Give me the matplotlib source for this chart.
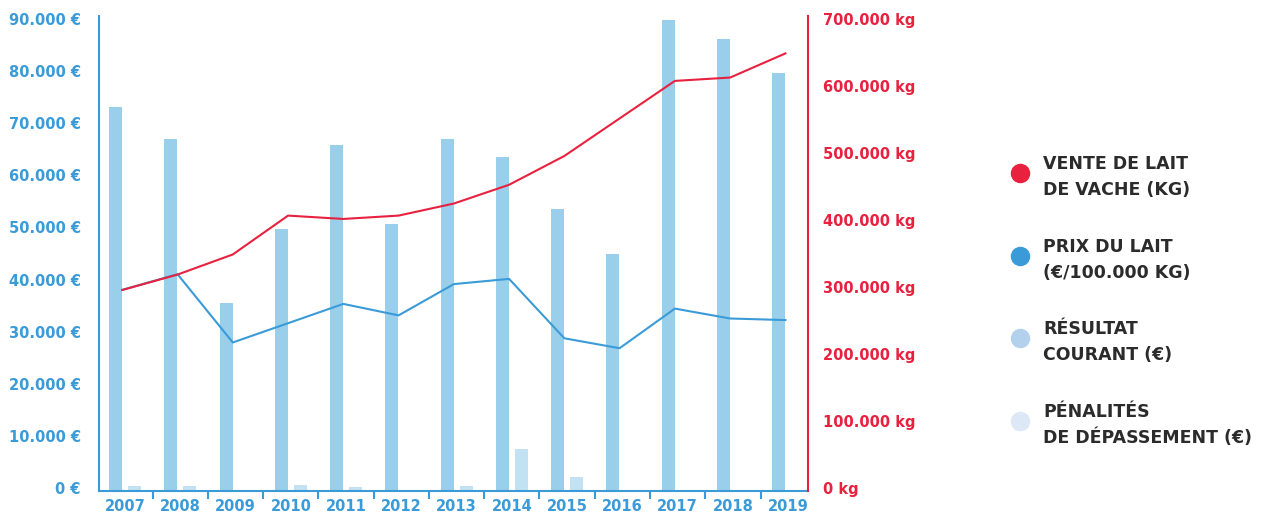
import matplotlib.pyplot as plt
import matplotlib.transforms as mtransforms
from matplotlib.lines import Line2D
import numpy as np

years = ['2007', '2008', '2009', '2010', '2011', '2012', '2013',
         '2014', '2015', '2016', '2017', '2018', '2019']

# résultat courant (EUR)
resultat = [73700, 67500, 36100, 50300, 66400, 51200, 67500,
            64100, 54100, 45500, 90400, 86700, 80200]
# pénalités de dépassement (EUR)
penalites = [960, 960, 0, 1150, 770, 0, 960,
             8060, 2690, 0, 0, 0, 0]
# prix du lait (EUR / 100.000 kg)
prix = [38600, 41600, 28500, 32200, 35900, 33700, 39700,
        40700, 29300, 27400, 35000, 33100, 32800]
# vente de lait de vache (kg)
vente = [300000, 323000, 353000, 411000, 406000, 411000, 429000,
         457000, 500000, 556000, 612000, 617000, 653000]

BLUE = '#3a9bd8'
RED = '#e8213f'
BAR = '#9acfeb'
BAR_LIGHT = '#c2e2f3'
DARK = '#2b2b2b'

plt.rcParams['font.family'] = 'DejaVu Sans'
plt.rcParams['font.weight'] = 'bold'

fig = plt.figure(figsize=(12.61, 5.14), dpi=100)
ax = fig.add_axes([0.0783, 0.0447, 0.5625, 0.9248])
ax2 = ax.twinx()

x = np.arange(len(years))
width = 0.235

ax.bar(x - 0.172, resultat, width=width, color=BAR, zorder=2)
ax.bar(x + 0.172, penalites, width=width, color=BAR_LIGHT, zorder=2)
ax.plot(x - 0.05, prix, color=BLUE, lw=1.5, zorder=3)
ax2.plot(x - 0.05, vente, color=RED, lw=1.5, zorder=3)

ax.set_xlim(-0.476, 12.36)
ax.set_ylim(0, 91200)
ax2.set_ylim(0, 91200 / 90000 * 700000)

ax.set_yticks(np.arange(0, 90001, 10000))
ax.set_yticklabels([('%d' % (v // 1000) + '.000 €') if v else '0 €'
                    for v in range(0, 90001, 10000)])
ax2.set_yticks(np.arange(0, 700001, 100000))
ax2.set_yticklabels([('%d' % (v // 1000) + '.000 kg') if v else '0 kg'
                     for v in range(0, 700001, 100000)])

ax.set_xticks(x)
ax.set_xticklabels(years)
ax.set_xticks(np.arange(0.5, 12, 1), minor=True)
ax.tick_params(axis='x', which='major', length=0, colors=BLUE,
               labelsize=10.5, pad=6)
ax.tick_params(axis='x', which='minor', length=6, width=1.5,
               color=BLUE, direction='out')
ax.tick_params(axis='y', length=0, colors=BLUE, labelsize=10.5, pad=13)
ax2.tick_params(axis='y', length=0, colors=RED, labelsize=10.5, pad=11)

# y labels sit a few pixels above their gridline in the original
lift = mtransforms.ScaledTranslation(0, 3 / 100, fig.dpi_scale_trans)
for lbl in ax.get_yticklabels() + ax2.get_yticklabels():
    lbl.set_transform(lbl.get_transform() + lift)

for a in (ax, ax2):
    a.spines['top'].set_visible(False)
    a.spines['left'].set_color(BLUE)
    a.spines['bottom'].set_color(BLUE)
    a.spines['right'].set_color(RED)
    for s in a.spines.values():
        s.set_linewidth(1.5)
ax2.spines['left'].set_visible(False)
ax2.spines['bottom'].set_visible(False)
ax.spines['right'].set_visible(False)

# legend drawn by hand: circle + two lines of text
legend = [
    (RED, 'VENTE DE LAIT', 'DE VACHE (KG)'),
    (BLUE, 'PRIX DU LAIT', '(€/100.000 KG)'),
    ('#b3d1ec', 'RÉSULTAT', 'COURANT (€)'),
    ('#dce8f5', 'PÉNALITÉS', 'DE DÉPASSEMENT (€)'),
]
W, H = 1261, 514
for i, (col, l1, l2) in enumerate(legend):
    cy = 173 + 82.7 * i
    fig.add_artist(Line2D([1020 / W], [1 - cy / H], marker='o',
                          markersize=13, color=col, linestyle='none',
                          transform=fig.transFigure))
    fig.text(1043 / W, 1 - (cy - 9) / H, l1, color=DARK, fontsize=12.5,
             va='center', ha='left')
    fig.text(1043 / W, 1 - (cy + 17) / H, l2, color=DARK, fontsize=12.5,
             va='center', ha='left')

fig.savefig('out.png', dpi=100)
